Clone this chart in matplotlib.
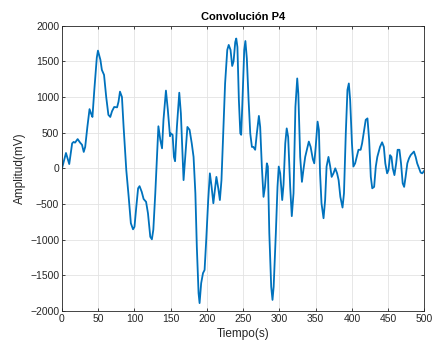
import matplotlib
matplotlib.use("Agg")
import matplotlib.pyplot as plt
import numpy as np

plt.rcParams['font.family'] = ['Liberation Sans', 'DejaVu Sans']

# tiempo (s) y amplitud (mV)
tiempo = [
    0, 5.5, 10, 14, 16, 18, 21.6, 25, 27.6, 30,
    32, 35, 38, 40, 42, 44.6, 48, 49.6, 53, 55,
    58, 61, 64, 66.6, 69, 72, 76, 78, 80, 82.7,
    85, 88.7, 92, 95, 98, 100, 102.5, 105, 107, 110,
    112.6, 116, 118.6, 121.8, 124, 126, 128.7, 131, 133, 135.6,
    138, 140, 143.4, 146, 149, 150, 152.6, 154.4, 156, 158.5,
    161.8, 164, 166.4, 167.7, 170, 173, 176, 179, 181.5, 184,
    186, 188.4, 189.8, 192, 194.5, 196.7, 199, 201.7, 204, 206.4,
    208.8, 211, 213, 215.6, 217.8, 220, 222.4, 225, 228, 230,
    232.5, 234.8, 236.7, 239, 240.4, 242, 244, 246, 247.2, 249,
    251.4, 253, 255, 257.4, 259.7, 262, 264, 266.5, 268.8, 271.6,
    273.4, 275.7, 278, 280, 282.6, 284, 286, 288.6, 290.4, 292,
    295, 297.3, 299, 301, 303.8, 305.6, 308, 310, 312, 314.8,
    317, 319.4, 322, 324.5, 326, 328.6, 331, 333, 335.5, 337.8,
    340.5, 343, 346, 348, 350, 352.6, 354.4, 356, 358, 360.8,
    363, 365, 367.6, 370, 372, 374.5, 377, 379.5, 381.6, 384,
    387, 389, 391.5, 393.8, 395.7, 397.5, 400, 402, 404.4, 406.6,
    409, 412, 414, 416.8, 419, 421.4, 423.7, 426, 428, 430.6,
    432.9, 435, 438.7, 441.6, 444, 446, 448.5, 450.4, 452.6, 454.5,
    456.3, 458.6, 461, 463, 465.5, 467.7, 470, 472, 474, 476.4,
    478.7, 481, 483.2, 485.5, 487.9, 490, 492.5, 494.8, 497, 500,
]
amplitud = [
    0, 215, 60, 350, 370, 360, 410, 360, 330, 230,
    300, 580, 830, 770, 720, 1100, 1550, 1650, 1520, 1380,
    1310, 1000, 750, 720, 800, 860, 855, 935, 1075, 1000,
    580, -25, -400, -770, -855, -820, -540, -280, -250, -330,
    -430, -470, -630, -960, -995, -860, -350, 160, 590, 400,
    280, 680, 1090, 820, 450, 490, 470, 160, 100, 580,
    1060, 770, 160, -165, 160, 580, 540, 350, 160, -350,
    -1100, -1750, -1890, -1610, -1470, -1425, -1000, -445, -70, -260,
    -490, -300, -120, -280, -445, -165, 490, 1190, 1660, 1730,
    1660, 1435, 1500, 1770, 1820, 1700, 960, 490, 470, 960,
    1660, 1785, 1540, 960, 490, 300, 300, 260, 490, 735,
    580, 25, -400, -260, 70, 25, -910, -1660, -1845, -1660,
    -910, -260, 25, -70, -445, -230, 350, 560, 440, -260,
    -670, -350, 860, 1260, 1050, 160, -190, -25, 160, 260,
    375, 300, 130, 70, 300, 655, 540, -70, -490, -700,
    -445, 25, 160, 25, -120, -70, 0, -70, -165, -400,
    -550, -350, 490, 1100, 1190, 960, 350, 25, 70, 160,
    260, 260, 350, 540, 680, 700, 400, -120, -280, -260,
    25, 160, 300, 365, 300, 70, -70, -25, 185, 160,
    0, -95, 70, 260, 260, 70, -210, -260, -120, 70,
    140, 185, 210, 235, 160, 70, 0, -60, -70, -30,
]

fig = plt.figure(figsize=(4.32, 3.45), dpi=100)
ax = fig.add_axes([0.1435, 0.0986, 0.839, 0.827])

ax.plot(tiempo, amplitud, color='#0072BD', linewidth=1.3)

ax.set_xlim(0, 500)
ax.set_ylim(-2000, 2000)
ax.set_xticks(np.arange(0, 501, 50))
ax.set_yticks(np.arange(-2000, 2001, 500))
ax.grid(True, color='#e3e3e3', linewidth=0.6)
ax.set_axisbelow(True)
ax.tick_params(direction='in', length=2.5, width=0.6, labelsize=7.5,
               colors='#262626', top=True, right=True, pad=2)
for s in ax.spines.values():
    s.set_color('#262626')
    s.set_linewidth(0.6)

ax.set_title('Convolución P4', fontsize=8, fontweight='bold', pad=4)
ax.set_xlabel('Tiempo(s)', fontsize=8.5, labelpad=3, color='#262626')
ax.set_ylabel('Amplitud(mV)', fontsize=8.5, labelpad=3, color='#262626')

fig.savefig('out.png', dpi=100)
